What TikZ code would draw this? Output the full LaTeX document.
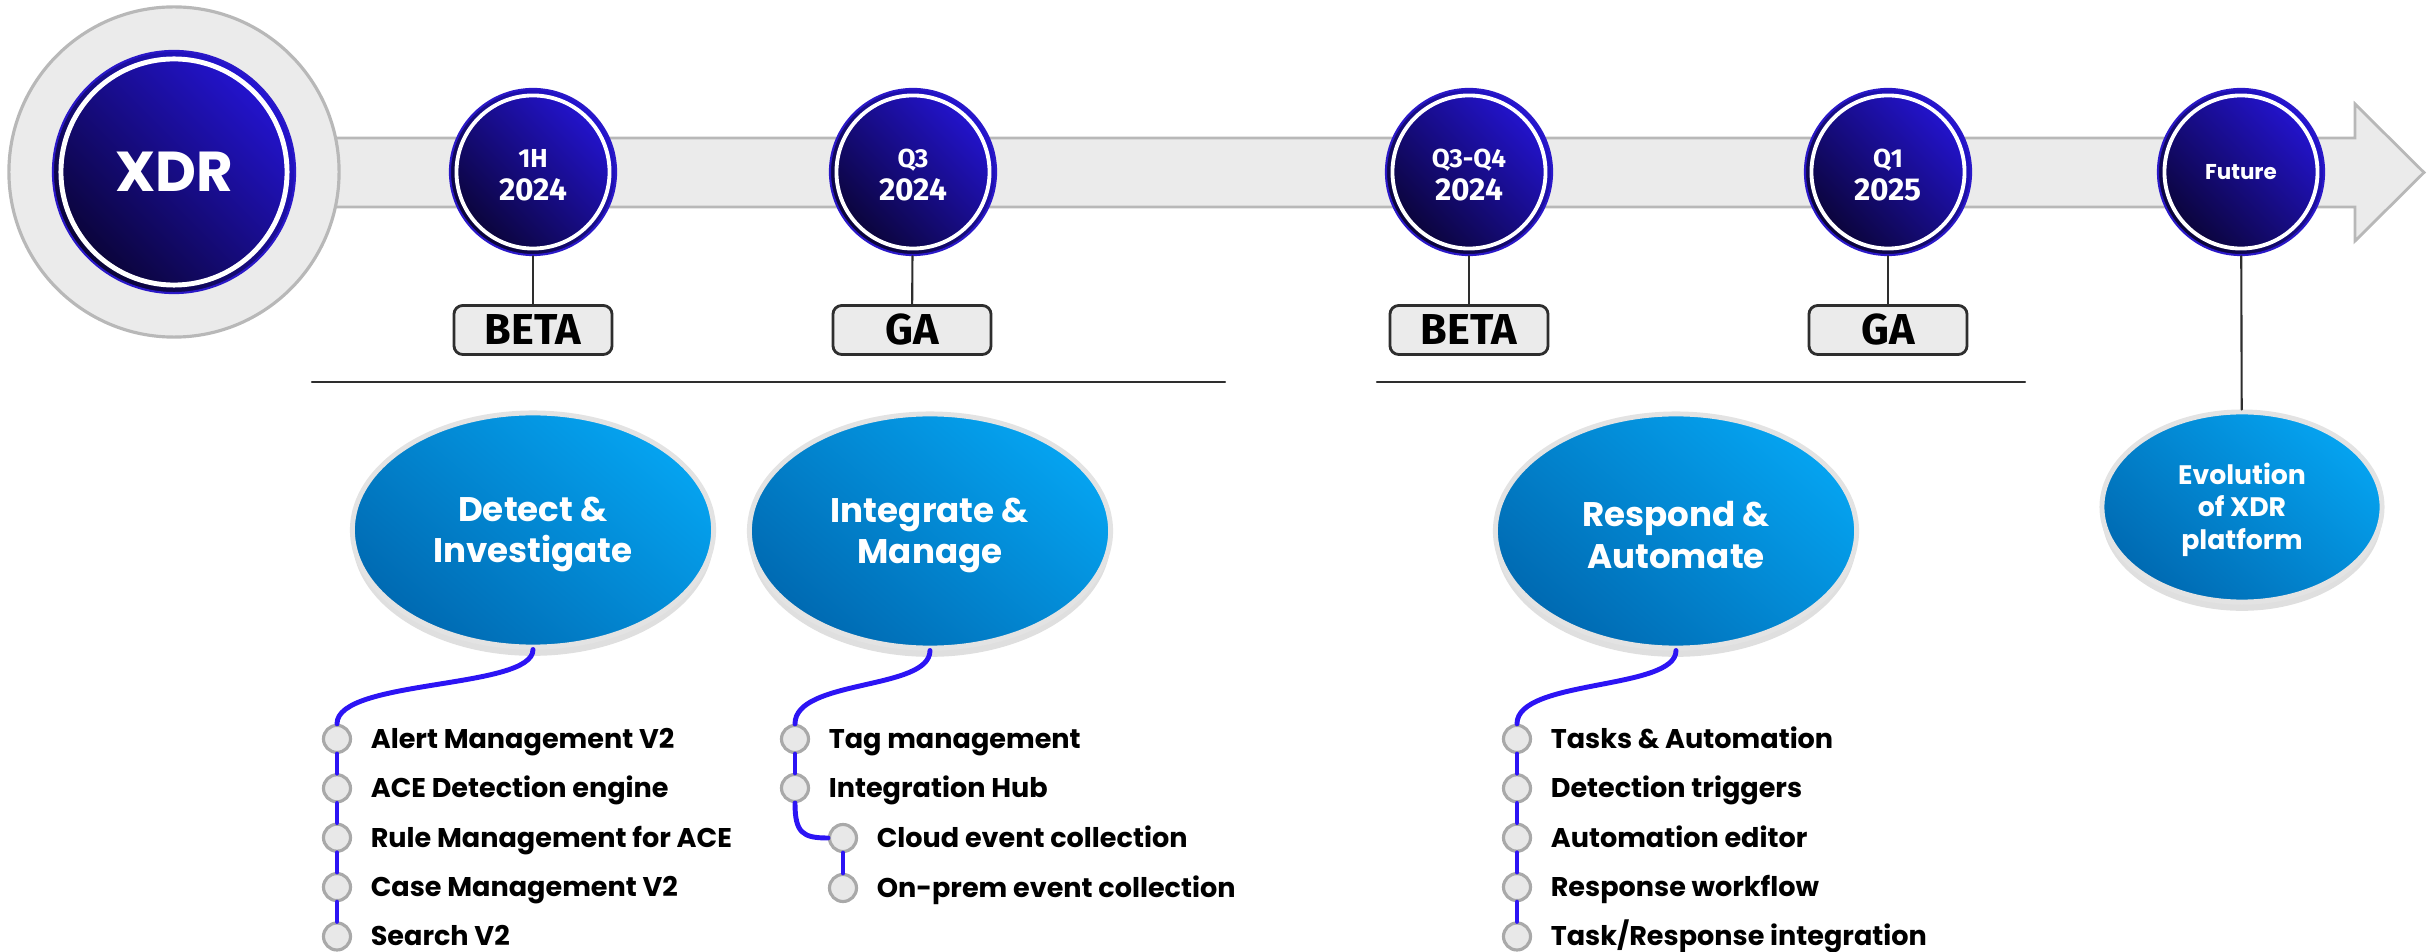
\documentclass[tikz,border=0pt]{standalone}
\usepackage{fontspec}
\setmainfont{Poppins}
\newfontfamily\datefont{Fira Sans}
\usetikzlibrary{positioning,shapes.geometric,shadows}

\definecolor{bandgray}{HTML}{EBEBEB}
\definecolor{bandline}{HTML}{B8B8B8}
\definecolor{stagetop}{HTML}{2414D2}
\definecolor{stagebot}{HTML}{0A0436}
\definecolor{stagerim}{HTML}{2A18C8}
\definecolor{themetop}{HTML}{05A3F0}
\definecolor{themebot}{HTML}{006AB2}
\definecolor{themerim}{HTML}{E3E3E3}
\definecolor{trackblue}{HTML}{2C14F4}
\definecolor{dotgray}{HTML}{E8E8E8}
\definecolor{dotline}{HTML}{A9A9A9}
\definecolor{stemgray}{HTML}{2E2E2E}

% two-line date label, first line smaller
\newcommand{\when}[2]{{\fontsize{7.4}{8}\selectfont\rule{0pt}{6.8pt}#1}\\#2}

\tikzset{
  stage/.style={circle,inner sep=0pt,minimum size=1.66cm,draw=stagerim,line width=0.6pt,
    top color=stagetop,bottom color=stagebot,shading angle=-45,text=white,align=center,
    font=\datefont\bfseries\fontsize{9}{9.4}\selectfont},
  tag/.style={draw=stemgray,fill=bandgray,rounded corners=2.5pt,line width=0.8pt,
    minimum width=1.58cm,minimum height=0.49cm,inner sep=0pt,
    font=\datefont\bfseries\fontsize{12.3}{14}\selectfont},
  theme/.style={ellipse,inner sep=0pt,minimum width=3.61cm,minimum height=2.34cm,
    draw=themerim,line width=1.4pt,top color=themetop,bottom color=themebot,shading angle=-40,
    text=white,align=center,font=\bfseries\fontsize{9.7}{11.9}\selectfont,
    drop shadow={opacity=0.25,shadow xshift=0pt,shadow yshift=-2.5pt}},
  dot/.style={circle,inner sep=0pt,minimum size=0.27cm,draw=dotline,fill=dotgray,line width=0.9pt},
  feat/.style={inner sep=0pt,anchor=west,text height=5.4pt,text depth=0pt,
    font=\bfseries\fontsize{7.7}{9}\selectfont},
  stem/.style={draw=stemgray,line width=0.6pt},
  track/.style={draw=trackblue,line width=1.4pt}
}

\begin{document}
\begin{tikzpicture}[x=0.01cm,y=-0.01cm,line cap=round,line join=round]
  \useasboundingbox (0,0) rectangle (2435,952);
  % timeline band and its arrow head
  \draw[fill=bandgray,draw=bandline,line width=0.8pt,line join=miter]
    (174,138) -- (2355,138) -- (2355,104) -- (2424,172.5) -- (2355,241) -- (2355,207) -- (174,207) -- cycle;
  \node[circle,minimum size=3.3cm,fill=bandgray,draw=bandline,line width=0.9pt] (halo) at (174,172) {};
  \node[stage,minimum size=2.42cm,font=\bfseries\fontsize{16}{19}\selectfont] (xdr) at (174,172) {XDR};
  \draw[white,line width=1.4pt] (xdr.center) circle (1.13cm);

  % milestones
  \node[stage] (s1) at (533,172) {\when{1H}{2024}};
  \node[stage] (s2) at (913,172) {\when{Q3}{2024}};
  \node[stage] (s3) at (1469,172) {\when{Q3-Q4}{2024}};
  \node[stage] (s4) at (1888,172) {\when{Q1}{2025}};
  \node[stage,font=\bfseries\fontsize{6.1}{7}\selectfont] (s5) at (2241,172) {Future};
  \foreach \n in {s1,s2,s3,s4,s5}
    \draw[white,line width=1.1pt] (\n.center) circle (0.765cm);

  \node[tag] (t1) at (533,330) {BETA};
  \node[tag] (t2) at (912,330) {GA};
  \node[tag] (t3) at (1469,330) {BETA};
  \node[tag] (t4) at (1888,330) {GA};
  \foreach \p/\q in {s1/t1,s2/t2,s3/t3,s4/t4}
    \draw[stem] (\p) -- (\q);

  \draw[stemgray,line width=0.7pt] (312,382) -- (1225,382);
  \draw[stemgray,line width=0.7pt] (1377,382) -- (2025,382);

  % themes
  \node[theme] (th1) at (533,530) {\rule{0pt}{9.5pt}Detect \&\\Investigate};
  \node[theme] (th2) at (930,531) {\rule{0pt}{9.5pt}Integrate \&\\Manage};
  \node[theme] (th3) at (1676,531) {\rule{0pt}{9.5pt}Respond \&\\Automate};
  \node[theme,minimum width=2.8cm,minimum height=1.9cm,font=\bfseries\fontsize{7.6}{9.25}\selectfont]
    (evo) at (2242,507) {\rule{0pt}{7.5pt}Evolution\\of XDR\\platform};
  \draw[stem] (s5) -- (evo);

  % feature lists
  \foreach \t [count=\k] in {Alert Management V2,ACE Detection engine,Rule Management for ACE,Case Management V2,Search V2} {
    \node[dot] (a\k) at (337,{689.5+49.4*\k}) {};
    \node[feat,right=0.18cm of a\k] (at\k) {\t};
  }
  \node[dot] (b1) at (795,739) {};
  \node[feat,right=0.18cm of b1] (bt1) {Tag management};
  \node[dot] (b2) at (795,788) {};
  \node[feat,right=0.18cm of b2] (bt2) {Integration Hub};
  \node[dot] (b3) at (843,838) {};
  \node[feat,right=0.18cm of b3] (bt3) {Cloud event collection};
  \node[dot] (b4) at (843,888) {};
  \node[feat,right=0.18cm of b4] (bt4) {On-prem event collection};
  \foreach \t [count=\k] in {Tasks \& Automation,Detection triggers,Automation editor,Response workflow,Task/Response integration} {
    \node[dot] (c\k) at (1517,{689.5+49.4*\k}) {};
    \node[feat,right=0.18cm of c\k] (ct\k) {\t};
  }

  \draw[track] (th1.south) .. controls +(0,40) and +(0,-45) .. (a1.north);
  \draw[track] (th2.south) .. controls +(0,40) and +(0,-45) .. (b1.north);
  \draw[track] (th3.south) .. controls +(0,40) and +(0,-45) .. (c1.north);
  \draw[track] (b2.south) .. controls +(0,30) and +(-25,0) .. (b3.west);
  \foreach \p/\q in {a1/a2,a2/a3,a3/a4,a4/a5,b1/b2,b3/b4,c1/c2,c2/c3,c3/c4,c4/c5}
    \draw[track] (\p) -- (\q);
\end{tikzpicture}
\end{document}
